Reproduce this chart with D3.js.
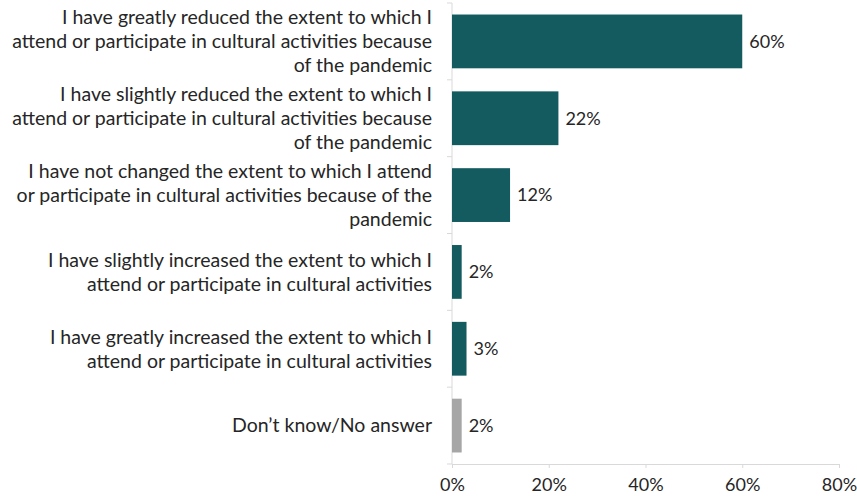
<!DOCTYPE html>
<html>
<head>
<meta charset="utf-8">
<script src="https://cdn.jsdelivr.net/npm/d3@7"></script>
<style>
  body { margin: 0; background: #fff; }
  text { font-family: Lato, "Open Sans", sans-serif; fill: #262626; }
</style>
</head>
<body>
<div id="chart-area"></div>
<script>
// Data
var categories = [
    ['I have greatly reduced the extent to which I', 'attend or participate in cultural activities because', 'of the pandemic'],
    ['I have slightly reduced the extent to which I', 'attend or participate in cultural activities because', 'of the pandemic'],
    ['I have not changed the extent to which I attend', 'or participate in cultural activities because of the', 'pandemic'],
    ['I have slightly increased the extent to which I', 'attend or participate in cultural activities'],
    ['I have greatly increased the extent to which I', 'attend or participate in cultural activities'],
    ['Don\u2019t know/No answer']
];
var values = [60, 22, 12, 2, 3, 2];
var barColors = ['#145b5f', '#145b5f', '#145b5f', '#145b5f', '#145b5f', '#a6a6a6'];
var xTicks = [0, 20, 40, 60, 80];

//Margin
var margin = {left: 452, right: 18, top: 3, bottom: 33};
var width = 857 - margin.left - margin.right,
    height = 497 - margin.top - margin.bottom;

var fontSize = 18;
var catFontSize = 19.5;

//SVG
var svg = d3.select('#chart-area')
    .append('svg')
        .attr('width', 857)
        .attr('height', 497);
var g = svg.append('g')
        .attr('transform', 'translate(' + margin.left + ',' + margin.top + ')');

//X Scale
var x = d3.scaleLinear()
    .domain([0, 80])
    .range([0, width]);

//Y Scale
var y = d3.scaleBand()
    .domain(d3.range(categories.length))
    .range([0, height])
    .paddingInner(0.3)
    .paddingOuter(0.15);

//Y Axis (ticks between categories)
g.append('line')
    .attr('x1', 0).attr('x2', 0)
    .attr('y1', 0).attr('y2', height)
    .attr('stroke', '#d9d9d9');
g.selectAll('.ytick')
    .data(d3.range(categories.length + 1))
    .enter().append('line')
        .attr('class', 'ytick')
        .attr('x1', -5).attr('x2', 0)
        .attr('y1', function(d){ return d * y.step(); })
        .attr('y2', function(d){ return d * y.step(); })
        .attr('stroke', '#d9d9d9');

//X Axis
var xAxisCall = d3.axisBottom(x)
    .tickValues(xTicks)
    .tickSize(4)
    .tickPadding(10)
    .tickFormat(function(d){ return d + '%'; });
var xAxis = g.append('g')
    .attr('class', 'x axis')
    .attr('transform', 'translate(0,' + height + ')')
    .call(xAxisCall);
xAxis.select('.domain').attr('stroke', '#d9d9d9');
xAxis.selectAll('.tick line').attr('stroke', '#d9d9d9');
xAxis.selectAll('.tick text')
    .attr('font-size', fontSize + 'px')
    .style('font-family', 'Lato, "Open Sans", sans-serif')
    .attr('fill', '#262626');

//Bars
g.selectAll('rect')
    .data(values)
    .enter().append('rect')
        .attr('x', x(0))
        .attr('y', function(d, i){ return y(i); })
        .attr('width', function(d){ return x(d) - x(0); })
        .attr('height', y.bandwidth())
        .attr('fill', function(d, i){ return barColors[i]; });

//Value labels
g.selectAll('.value')
    .data(values)
    .enter().append('text')
        .attr('class', 'value')
        .attr('x', function(d){ return x(d) + 7; })
        .attr('y', function(d, i){ return y(i) + y.bandwidth() / 2; })
        .attr('dy', '0.35em')
        .attr('font-size', fontSize + 'px')
        .text(function(d){ return d + '%'; });

//Category labels
var lineH = 24;
var labels = g.selectAll('.cat')
    .data(categories)
    .enter().append('text')
        .attr('class', 'cat')
        .attr('text-anchor', 'end')
        .attr('font-size', catFontSize + 'px');
labels.each(function(lines, i){
    var cy = y(i) + y.bandwidth() / 2;
    var top = cy - (lines.length - 1) * lineH / 2;
    d3.select(this).selectAll('tspan')
        .data(lines)
        .enter().append('tspan')
            .attr('x', -20)
            .attr('y', function(d, j){ return top + j * lineH; })
            .attr('dy', '0.35em')
            .text(function(d){ return d; });
});
</script>
</body>
</html>
